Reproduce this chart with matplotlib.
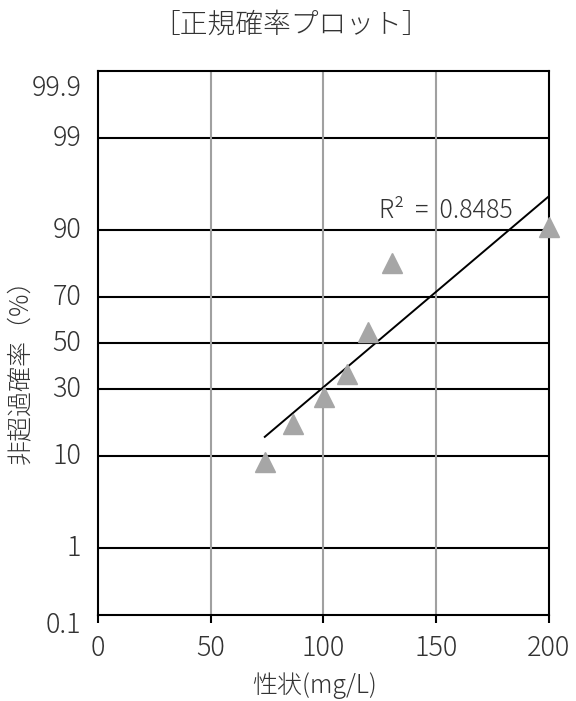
import matplotlib
matplotlib.use("Agg")
import matplotlib.pyplot as plt
import numpy as np
from statistics import NormalDist

plt.rcParams['font.family'] = ['Noto Sans CJK JP', 'DejaVu Sans']
plt.rcParams['font.weight'] = 'light'

# 性状 (mg/L) と非超過確率 (%)
conc = [74.0, 86.5, 100.2, 110.4, 119.7, 130.4, 200.0]
prob = [8.8, 17.9, 27.0, 36.3, 55.0, 81.8, 90.6]

# 確率軸の目盛
prob_ticks = [0.1, 1, 10, 30, 50, 70, 90, 99, 99.9]
prob_labels = ['0.1', '1', '10', '30', '50', '70', '90', '99', '99.9']
x_ticks = [0, 50, 100, 150, 200]

nd = NormalDist()


def to_z(p):
    return np.array([nd.inv_cdf(v / 100.0) for v in p])


z = to_z(prob)
z_ticks = to_z(prob_ticks)

fig = plt.figure(figsize=(5.76, 7.01), dpi=100)
ax = fig.add_axes([0.170, 0.1227, 0.783, 0.776])

ax.set_xlim(0, 200)
ax.set_ylim(z_ticks[0], z_ticks[-1])

# 格子線
for zt in z_ticks[1:-1]:
    ax.axhline(zt, color='black', lw=1.5, zorder=1)
for xt in x_ticks[1:-1]:
    ax.axvline(xt, color='#a0a0a0', lw=1.5, zorder=1)

# 近似直線
a, b = np.polyfit(conc, z, 1)
xs = np.array([min(conc), max(conc)])
ax.plot(xs, a * xs + b, color='black', lw=1.4, zorder=2)

ax.plot(conc, z, linestyle='none', marker='^', ms=14, color='#a6a6a6',
        markeredgecolor='#a6a6a6', zorder=3, clip_on=False)

ax.text(0.624, 0.743, 'R²  =  0.8485', transform=ax.transAxes, fontsize=18,
        ha='left', va='center', color='#333333')

for sp in ax.spines.values():
    sp.set_linewidth(1.5)
    sp.set_color('black')

ax.set_xticks(x_ticks)
ax.set_xticklabels([str(v) for v in x_ticks])
ax.tick_params(axis='x', direction='out', length=6, width=1.5, pad=8,
               labelsize=19.5, labelcolor='#333333')
ax.set_yticks([])

# 端の目盛ラベルは少し下にずらす
offsets = {0: -7, len(prob_labels) - 1: -12}
for i, (zt, lbl) in enumerate(zip(z_ticks, prob_labels)):
    ax.annotate(lbl, xy=(0, zt), xycoords=('axes fraction', 'data'),
                xytext=(-12, offsets.get(i, 0)), textcoords='offset points',
                ha='right', va='center', fontsize=19.5, color='#333333')

ax.text(-0.171, 0.46, '非超過確率（%）', transform=ax.transAxes, rotation=90,
        ha='center', va='center', fontsize=18, color='#333333')
ax.text(0.481, -0.129, '性状(mg/L)', transform=ax.transAxes,
        ha='center', va='center', fontsize=18, color='#333333')

fig.text(291 / 576, 1 - 25 / 701, '［正規確率プロット］', ha='center', va='center',
         fontsize=20, color='#333333')

fig.savefig('out.png', dpi=100)
